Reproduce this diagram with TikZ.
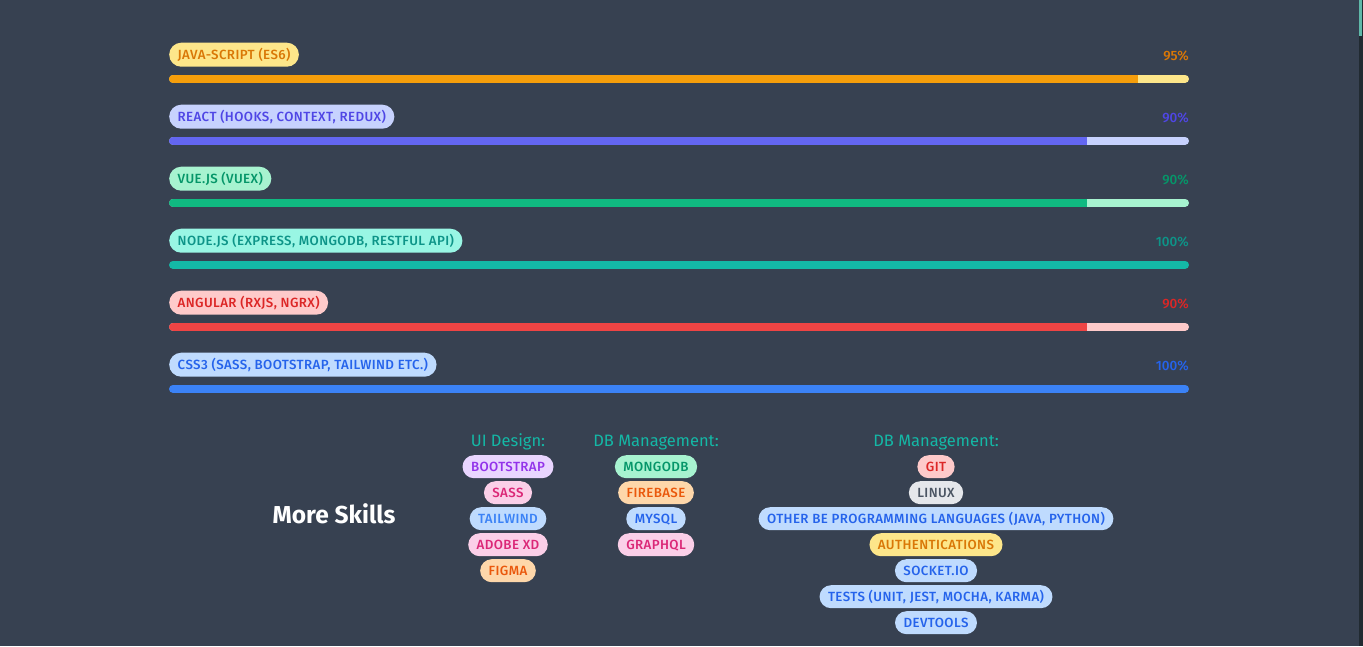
\documentclass[tikz,border=0pt]{standalone}
\usepackage{fontspec}
\setmainfont{Fira Sans}
\newfontfamily\medfont{Fira Sans Medium}
\newfontfamily\badgefont{Fira Sans Medium}[LetterSpace=3]

\definecolor{bg}{HTML}{374151}
\definecolor{scrolltrack}{HTML}{212A31}
\definecolor{scrollthumb}{HTML}{5FB8A8}
\definecolor{heading}{HTML}{14B8A6}

\definecolor{yellowlt}{HTML}{FDE68A}
\definecolor{yellowdk}{HTML}{D97706}
\definecolor{yellowbar}{HTML}{F59E0B}
\definecolor{indigolt}{HTML}{C7D2FE}
\definecolor{indigodk}{HTML}{4F46E5}
\definecolor{indigobar}{HTML}{6366F1}
\definecolor{greenlt}{HTML}{A7F3D0}
\definecolor{greendk}{HTML}{059669}
\definecolor{greenbar}{HTML}{10B981}
\definecolor{teallt}{HTML}{99F6E4}
\definecolor{tealdk}{HTML}{0D9488}
\definecolor{tealbar}{HTML}{14B8A6}
\definecolor{redlt}{HTML}{FECACA}
\definecolor{reddk}{HTML}{DC2626}
\definecolor{redbar}{HTML}{EF4444}
\definecolor{bluelt}{HTML}{BFDBFE}
\definecolor{bluedk}{HTML}{2563EB}
\definecolor{bluebar}{HTML}{3B82F6}
\definecolor{purplelt}{HTML}{E9D5FF}
\definecolor{purpledk}{HTML}{9333EA}
\definecolor{pinklt}{HTML}{FBCFE8}
\definecolor{pinkdk}{HTML}{DB2777}
\definecolor{orangelt}{HTML}{FED7AA}
\definecolor{orangedk}{HTML}{EA580C}
\definecolor{graylt}{HTML}{E5E7EB}
\definecolor{graydk}{HTML}{4B5563}

\tikzset{
	badge/.style={rounded corners=12pt, minimum height=24pt, inner xsep=8.5pt, inner ysep=0pt,
		text height=9.2pt, text depth=0pt, anchor=west, font=\badgefont\fontsize{13.3}{12}\selectfont},
	pill/.style={rounded corners=11.5pt, minimum height=23pt, inner xsep=8.5pt, inner ysep=0pt,
		text height=9.2pt, text depth=0pt, font=\badgefont\fontsize{13.3}{12}\selectfont},
	pct/.style={anchor=east, inner sep=0pt, text height=9.2pt, text depth=0pt, font=\medfont\fontsize{13.5}{12}\selectfont},
	bar/.style={line width=8pt, line cap=round},
	group/.style={inner sep=0pt, anchor=base, text=heading, font=\fontsize{16.5}{16}\selectfont}
}

\begin{document}
\begin{tikzpicture}[x=1pt,y=-1pt]
		\useasboundingbox (0,0) rectangle (1363,646);
		\fill[bg] (0,0) rectangle (1363,646);
		\fill[scrolltrack] (1358.5,0) rectangle (1363,646);
		\fill[scrollthumb] (1359,0) rectangle (1362,36);

		% skill bars
		\node[badge, fill=yellowlt, text=yellowdk] (js) at (169,54.7) {JAVA-SCRIPT (ES6)};
		\node[pct, text=yellowdk] (jspct) at (1189,55.7) {95\%};
		\draw[bar, yellowlt] (173,78.8) -- (1185,78.8);
		\draw[bar, yellowbar] (173,78.8) -- (1134,78.8);
		\draw[line width=8pt, yellowbar] (1130,78.8) -- (1138,78.8);

		\node[badge, fill=indigolt, text=indigodk] (react) at (169,116.7) {REACT (HOOKS, CONTEXT, REDUX)};
		\node[pct, text=indigodk] (reactpct) at (1189,117.7) {90\%};
		\draw[bar, indigolt] (173,140.8) -- (1185,140.8);
		\draw[bar, indigobar] (173,140.8) -- (1083,140.8);
		\draw[line width=8pt, indigobar] (1079,140.8) -- (1087,140.8);

		\node[badge, fill=greenlt, text=greendk] (vue) at (169,178.7) {VUE.JS (VUEX)};
		\node[pct, text=greendk] (vuepct) at (1189,179.7) {90\%};
		\draw[bar, greenlt] (173,202.8) -- (1185,202.8);
		\draw[bar, greenbar] (173,202.8) -- (1083,202.8);
		\draw[line width=8pt, greenbar] (1079,202.8) -- (1087,202.8);

		\node[badge, fill=teallt, text=tealdk] (node) at (169,240.7) {NODE.JS (EXPRESS, MONGODB, RESTFUL API)};
		\node[pct, text=tealdk] (nodepct) at (1189,241.7) {100\%};
		\draw[bar, tealbar] (173,264.8) -- (1185,264.8);

		\node[badge, fill=redlt, text=reddk] (angular) at (169,302.7) {ANGULAR (RXJS, NGRX)};
		\node[pct, text=reddk] (angularpct) at (1189,303.7) {90\%};
		\draw[bar, redlt] (173,326.8) -- (1185,326.8);
		\draw[bar, redbar] (173,326.8) -- (1083,326.8);
		\draw[line width=8pt, redbar] (1079,326.8) -- (1087,326.8);

		\node[badge, fill=bluelt, text=bluedk] (css) at (169,364.7) {CSS3 (SASS, BOOTSTRAP, TAILWIND ETC.)};
		\node[pct, text=bluedk] (csspct) at (1189,365.7) {100\%};
		\draw[bar, bluebar] (173,388.8) -- (1185,388.8);

		% more skills
		\node[inner sep=0pt, text=white, font=\fontsize{24.5}{24}\bfseries] (more) at (334,514) {More Skills};

		\node[group] (ui) at (508,446.7) {UI Design:};
		\node[pill, fill=purplelt, text=purpledk] (bootstrap) at (508,466.7) {BOOTSTRAP};
		\node[pill, fill=pinklt, text=pinkdk] (sass) at (508,492.7) {SASS};
		\node[pill, fill=bluelt, text=bluebar] (tailwind) at (508,518.7) {TAILWIND};
		\node[pill, fill=pinklt, text=pinkdk] (adobe) at (508,544.7) {ADOBE XD};
		\node[pill, fill=orangelt, text=orangedk] (figma) at (508,570.7) {FIGMA};

		\node[group] (db) at (656,446.7) {DB Management:};
		\node[pill, fill=greenlt, text=greendk] (mongodb) at (656,466.7) {MONGODB};
		\node[pill, fill=orangelt, text=orangedk] (firebase) at (656,492.7) {FIREBASE};
		\node[pill, fill=bluelt, text=bluedk] (mysql) at (656,518.7) {MYSQL};
		\node[pill, fill=pinklt, text=pinkdk] (graphql) at (656,544.7) {GRAPHQL};

		\node[group] (tools) at (936,446.7) {DB Management:};
		\node[pill, fill=redlt, text=reddk] (git) at (936,466.7) {GIT};
		\node[pill, fill=graylt, text=graydk] (linux) at (936,492.7) {LINUX};
		\node[pill, fill=bluelt, text=bluedk] (other) at (936,518.7) {OTHER BE PROGRAMMING LANGUAGES (JAVA, PYTHON)};
		\node[pill, fill=yellowlt, text=yellowdk] (auth) at (936,544.7) {AUTHENTICATIONS};
		\node[pill, fill=bluelt, text=bluedk] (socket) at (936,570.7) {SOCKET.IO};
		\node[pill, fill=bluelt, text=bluedk] (tests) at (936,596.7) {TESTS (UNIT, JEST, MOCHA, KARMA)};
		\node[pill, fill=bluelt, text=bluedk] (devtools) at (936,622.7) {DEVTOOLS};

	\end{tikzpicture}
\end{document}
